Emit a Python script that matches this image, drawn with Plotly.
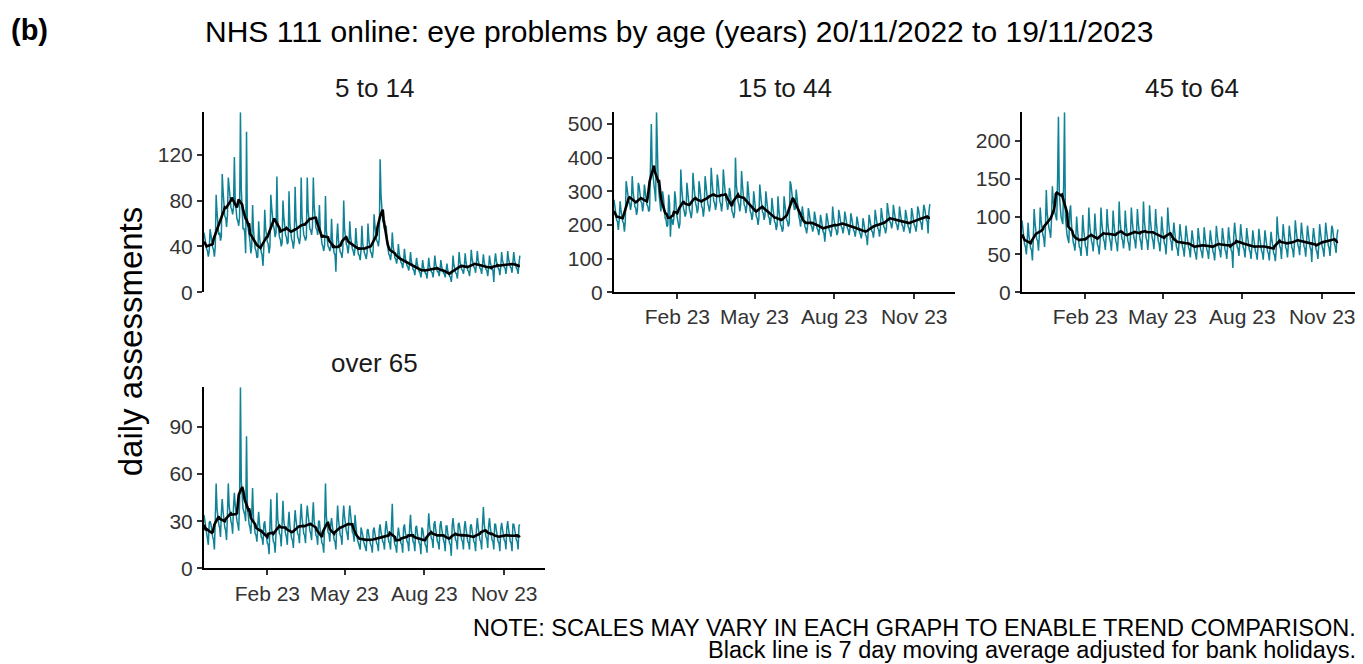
import pandas as pd
import plotly.graph_objects as go

# daily assessments, 20/11/2022 .. 19/11/2023 (one row = one week, Sun..Sat)
DATES = pd.date_range("2022-11-20", "2023-11-19", freq="D")

AGE_5_14 = [
    52, 47, 40, 38, 36, 31, 36,
    55, 50, 42, 39, 37, 31, 40,
    85, 70, 55, 50, 52, 45, 49,
    103, 88, 72, 66, 65, 57, 67,
    100, 92, 80, 74, 72, 68, 74,
    118, 80, 70, 64, 62, 58, 66,
    157, 90, 60, 55, 56, 52, 34,
    140, 60, 52, 50, 44, 34, 40,
    76, 55, 42, 38, 36, 30, 31,
    62, 48, 40, 35, 32, 23, 40,
    72, 56, 48, 44, 42, 34, 40,
    85, 74, 62, 58, 55, 48, 52,
    101, 62, 52, 48, 46, 40, 43,
    80, 66, 55, 50, 48, 42, 44,
    88, 60, 50, 46, 44, 38, 45,
    92, 64, 52, 48, 46, 42, 48,
    100, 66, 56, 50, 48, 45, 48,
    100, 72, 60, 55, 54, 50, 57,
    100, 75, 62, 56, 55, 50, 57,
    76, 56, 45, 42, 40, 36, 41,
    84, 54, 44, 40, 39, 36, 39,
    64, 46, 38, 34, 33, 18, 47,
    60, 45, 38, 35, 34, 30, 38,
    80, 55, 45, 42, 40, 34, 40,
    62, 48, 40, 38, 36, 32, 38,
    56, 44, 36, 33, 32, 28, 37,
    58, 42, 36, 34, 32, 29, 35,
    60, 46, 38, 35, 34, 30, 37,
    68, 58, 48, 45, 44, 40, 47,
    116, 85, 70, 62, 60, 55, 56,
    58, 44, 36, 33, 32, 28, 35,
    52, 40, 32, 30, 29, 25, 30,
    42, 34, 28, 26, 25, 21, 27,
    38, 30, 25, 23, 22, 19, 25,
    35, 27, 22, 20, 19, 15, 23,
    30, 24, 19, 18, 17, 13, 19,
    28, 22, 18, 17, 16, 12, 20,
    30, 23, 19, 18, 17, 13, 20,
    32, 25, 20, 18, 18, 14, 20,
    28, 22, 18, 17, 16, 13, 19,
    25, 19, 15, 14, 13, 9, 17,
    32, 24, 18, 17, 16, 12, 21,
    35, 27, 22, 20, 19, 16, 22,
    34, 26, 21, 19, 18, 14, 22,
    37, 29, 24, 22, 21, 17, 25,
    36, 28, 23, 21, 20, 16, 24,
    33, 26, 21, 20, 19, 14, 21,
    32, 26, 21, 20, 19, 9, 27,
    34, 27, 22, 21, 20, 15, 22,
    35, 28, 23, 22, 21, 16, 23,
    36, 29, 24, 22, 21, 17, 26,
    35, 28, 23, 21, 20, 16, 25,
    32,
]

AGE_15_44 = [
    275, 250, 225, 215, 210, 185, 215,
    270, 245, 220, 210, 205, 180, 210,
    330, 310, 280, 270, 265, 245, 260,
    345, 300, 265, 255, 250, 230, 245,
    325, 315, 285, 270, 265, 240, 260,
    320, 300, 270, 260, 255, 240, 245,
    420, 500, 380, 330, 320, 300, 270,
    535, 380, 320, 290, 270, 240, 275,
    300, 280, 235, 220, 215, 195, 200,
    290, 265, 165, 220, 215, 200, 220,
    300, 280, 235, 220, 215, 190, 205,
    365, 310, 265, 250, 240, 225, 235,
    325, 300, 255, 245, 235, 220, 240,
    355, 320, 280, 265, 255, 235, 250,
    330, 310, 270, 255, 250, 225, 250,
    345, 320, 275, 265, 255, 240, 260,
    370, 330, 290, 270, 265, 245, 260,
    350, 330, 285, 270, 262, 240, 265,
    365, 330, 290, 275, 265, 245, 260,
    310, 295, 255, 240, 235, 220, 237,
    400, 320, 280, 270, 260, 240, 260,
    360, 320, 275, 260, 255, 235, 255,
    330, 300, 255, 240, 235, 215, 231,
    300, 275, 240, 225, 220, 200, 220,
    320, 290, 250, 240, 235, 215, 228,
    300, 275, 240, 225, 220, 200, 220,
    280, 255, 220, 210, 205, 185, 199,
    285, 245, 210, 200, 195, 180, 190,
    285, 260, 225, 215, 210, 195, 206,
    330, 320, 285, 270, 260, 245, 250,
    305, 280, 240, 225, 215, 195, 220,
    255, 235, 205, 195, 190, 175, 194,
    250, 235, 205, 200, 195, 180, 191,
    240, 225, 200, 190, 185, 170, 190,
    230, 215, 190, 180, 175, 150, 190,
    235, 220, 195, 185, 180, 165, 185,
    255, 225, 195, 190, 185, 170, 180,
    245, 230, 205, 195, 190, 175, 195,
    240, 225, 200, 190, 185, 170, 190,
    235, 220, 195, 185, 180, 165, 185,
    225, 210, 185, 178, 172, 160, 179,
    220, 205, 180, 170, 165, 140, 180,
    230, 215, 190, 182, 178, 162, 187,
    245, 225, 200, 190, 185, 165, 190,
    250, 230, 205, 195, 190, 175, 190,
    265, 245, 220, 210, 205, 190, 205,
    260, 240, 215, 205, 200, 185, 200,
    255, 235, 210, 200, 195, 180, 195,
    245, 230, 205, 195, 190, 175, 195,
    250, 235, 210, 200, 195, 180, 200,
    255, 245, 220, 210, 205, 185, 220,
    260, 250, 225, 215, 210, 175, 240,
    262,
]

AGE_45_64 = [
    95, 80, 68, 63, 60, 50, 67,
    92, 75, 63, 58, 56, 42, 69,
    110, 92, 76, 70, 68, 55, 75,
    112, 95, 82, 76, 72, 60, 84,
    135, 105, 92, 85, 80, 72, 96,
    140, 120, 110, 105, 100, 95, 149,
    232, 130, 105, 100, 95, 90, 144,
    238, 100, 80, 75, 70, 65, 107,
    115, 90, 72, 66, 62, 55, 72,
    100, 82, 66, 60, 58, 48, 69,
    102, 84, 68, 62, 58, 48, 68,
    112, 90, 74, 68, 64, 54, 70,
    104, 85, 68, 63, 60, 50, 67,
    112, 92, 76, 70, 66, 56, 74,
    110, 90, 75, 70, 66, 55, 73,
    108, 90, 74, 68, 64, 54, 74,
    120, 94, 78, 72, 68, 58, 70,
    108, 90, 74, 68, 64, 55, 73,
    112, 95, 78, 72, 68, 58, 77,
    110, 92, 76, 70, 66, 56, 76,
    120, 95, 78, 72, 68, 56, 71,
    115, 95, 78, 72, 68, 57, 75,
    110, 90, 74, 68, 64, 54, 72,
    100, 85, 70, 65, 62, 50, 72,
    112, 92, 76, 70, 66, 55, 75,
    92, 80, 65, 60, 57, 48, 67,
    90, 78, 64, 60, 56, 47, 67,
    88, 77, 63, 59, 56, 46, 66,
    82, 72, 58, 54, 51, 43, 60,
    85, 74, 60, 56, 53, 45, 61,
    86, 73, 60, 56, 53, 44, 62,
    82, 72, 58, 54, 51, 42, 61,
    88, 76, 62, 58, 55, 46, 63,
    85, 74, 60, 56, 53, 44, 62,
    86, 74, 60, 56, 53, 32, 73,
    92, 80, 65, 60, 57, 48, 67,
    90, 77, 63, 59, 56, 46, 64,
    85, 74, 60, 56, 53, 44, 62,
    82, 72, 58, 54, 51, 43, 60,
    84, 73, 59, 55, 52, 43, 61,
    82, 72, 58, 54, 51, 42, 61,
    80, 70, 56, 52, 49, 41, 58,
    100, 80, 66, 61, 58, 44, 67,
    90, 77, 63, 59, 56, 46, 64,
    88, 78, 63, 59, 56, 46, 65,
    95, 82, 67, 62, 59, 49, 69,
    92, 80, 65, 61, 57, 47, 67,
    88, 78, 63, 59, 56, 40, 71,
    85, 74, 60, 56, 53, 44, 62,
    90, 79, 64, 60, 56, 47, 66,
    92, 81, 66, 62, 58, 48, 69,
    88, 84, 68, 64, 60, 52, 74,
    83,
]

AGE_65_PLUS = [
    34, 30, 25, 22, 20, 15, 29,
    30, 28, 22, 20, 18, 12, 31,
    54, 38, 30, 28, 26, 20, 35,
    44, 36, 28, 26, 24, 18, 34,
    54, 40, 32, 30, 28, 22, 39,
    48, 40, 33, 30, 28, 24, 42,
    115, 55, 42, 38, 36, 34, 30,
    84, 40, 32, 28, 26, 22, 34,
    51, 32, 25, 22, 21, 17, 28,
    36, 28, 22, 20, 19, 15, 28,
    30, 24, 18, 16, 15, 9, 28,
    44, 25, 19, 17, 16, 10, 23,
    48, 32, 24, 22, 21, 14, 28,
    43, 30, 24, 22, 20, 15, 28,
    36, 27, 21, 19, 18, 13, 27,
    37, 31, 24, 22, 21, 16, 31,
    41, 32, 25, 22, 21, 16, 32,
    40, 34, 26, 24, 22, 18, 32,
    42, 30, 24, 21, 20, 15, 30,
    30, 24, 18, 16, 15, 10, 27,
    54, 33, 26, 23, 22, 17, 28,
    32, 27, 21, 18, 17, 12, 27,
    40, 31, 24, 21, 20, 15, 31,
    40, 33, 26, 24, 22, 18, 33,
    40, 34, 26, 23, 22, 17, 34,
    24, 22, 18, 16, 15, 12, 26,
    24, 21, 17, 15, 14, 11, 24,
    25, 21, 17, 15, 14, 10, 24,
    26, 22, 18, 16, 15, 11, 25,
    28, 23, 19, 17, 16, 12, 25,
    30, 25, 20, 17, 16, 12, 27,
    41, 22, 18, 15, 14, 10, 20,
    26, 22, 18, 16, 15, 10, 26,
    28, 23, 19, 17, 16, 11, 26,
    34, 24, 19, 17, 16, 11, 26,
    27, 22, 18, 16, 15, 9, 26,
    25, 21, 17, 15, 14, 10, 24,
    35, 27, 21, 19, 18, 13, 28,
    30, 25, 20, 17, 16, 12, 27,
    30, 25, 20, 18, 16, 11, 27,
    27, 22, 18, 16, 15, 8, 27,
    32, 26, 21, 18, 17, 12, 28,
    29, 25, 20, 18, 17, 12, 26,
    30, 25, 20, 17, 16, 12, 27,
    28, 24, 19, 17, 16, 11, 25,
    32, 26, 21, 18, 17, 12, 28,
    39, 28, 22, 20, 19, 13, 27,
    32, 26, 21, 18, 17, 12, 28,
    28, 24, 19, 17, 16, 11, 25,
    29, 25, 20, 18, 17, 12, 26,
    30, 25, 20, 17, 16, 11, 28,
    28, 25, 20, 18, 17, 12, 27,
    28,
]

PANEL_TITLES = ["5 to 14", "15 to 44", "45 to 64", "over 65"]
Y_TICKS_5_14 = [0, 40, 80, 120]
Y_TICKS_15_44 = [0, 100, 200, 300, 400, 500]
Y_TICKS_45_64 = [0, 50, 100, 150, 200]
Y_TICKS_65_PLUS = [0, 30, 60, 90]
X_TICK_DATES = ["2023-02-01", "2023-05-01", "2023-08-01", "2023-11-01"]
X_TICK_TEXT = ["Feb 23", "May 23", "Aug 23", "Nov 23"]
X_RANGE = ["2022-11-20", "2023-12-18"]
NOTE_LINES = [
    "NOTE: SCALES MAY VARY IN EACH GRAPH TO ENABLE TREND COMPARISON.",
    "Black line is 7 day moving average adjusted for bank holidays.",
]

# page body has an 8px margin; the photo also comes out squeezed a little vertically
PAD = 8
SY = 0.983
W, H = 1363 - PAD, 668
TEAL = "#108296"
INK = "#333333"
FONT = "Liberation Sans, Arial, sans-serif"


def px(x):
    return (x - PAD) / W


def py(y):
    return 1 - (y / SY - PAD) / H


# panel boxes in screen pixels: (left, right, top, bottom), and whether the x axis is drawn
PANELS = [
    (AGE_5_14, Y_TICKS_5_14, (204, 545, 112, 292), False),
    (AGE_15_44, Y_TICKS_15_44, (614, 955, 112, 292), True),
    (AGE_45_64, Y_TICKS_45_64, (1022, 1363, 112, 292), True),
    (AGE_65_PLUS, Y_TICKS_65_PLUS, (204, 545, 387, 568), True),
]

fig = go.Figure()
annotations = []

for i, (vals, yticks, box, show_x) in enumerate(PANELS, start=1):
    sfx = "" if i == 1 else str(i)
    s = pd.Series(vals, index=DATES)
    # 7 day centred moving average
    ma = s.rolling(7, center=True, min_periods=4).mean()

    fig.add_trace(go.Scatter(
        x=DATES, y=s.values, mode="lines", xaxis=f"x{sfx}", yaxis=f"y{sfx}",
        line=dict(color=TEAL, width=1.5), showlegend=False, hoverinfo="skip",
    ))
    fig.add_trace(go.Scatter(
        x=DATES, y=ma.values, mode="lines", xaxis=f"x{sfx}", yaxis=f"y{sfx}",
        line=dict(color="black", width=2.6), showlegend=False,
    ))

    left, right, top, bottom = box
    xdom = [px(left), min(px(right), 1.0)]
    ydom = [py(bottom), py(top)]

    fig.update_layout(**{
        f"xaxis{sfx}": dict(
            type="date", domain=xdom, anchor=f"y{sfx}", range=X_RANGE,
            showline=show_x, linecolor="black", linewidth=2,
            ticks="outside" if show_x else "", ticklen=5, tickwidth=2, tickcolor=INK,
            tickvals=X_TICK_DATES, ticktext=X_TICK_TEXT, showticklabels=show_x,
            ticklabeloverflow="allow",
            tickfont=dict(family=FONT, size=21, color=INK),
            showgrid=False, zeroline=False,
        ),
        f"yaxis{sfx}": dict(
            domain=ydom, anchor=f"x{sfx}", range=[0, max(vals)],
            showline=True, linecolor="black", linewidth=2,
            ticks="outside", ticklen=5, tickwidth=2, tickcolor=INK,
            tickvals=yticks, tickfont=dict(family=FONT, size=21, color=INK),
            showgrid=False, zeroline=False,
        ),
    })

    centre = 1192 if i == 3 else (left + right) / 2
    annotations.append(dict(
        text=PANEL_TITLES[i - 1], xref="paper", yref="paper",
        x=px(centre), y=py(top - 24),
        xanchor="center", yanchor="middle", showarrow=False,
        font=dict(family=FONT, size=26, color="#1a1a1a"),
    ))

annotations += [
    dict(text="<b>(b)</b>", xref="paper", yref="paper", x=px(9), y=py(30),
         xanchor="left", yanchor="middle", showarrow=False,
         font=dict(family=FONT, size=29, color="black")),
    dict(text="NHS 111 online: eye problems by age (years) 20/11/2022 to 19/11/2023",
         xref="paper", yref="paper", x=px(203), y=py(31),
         xanchor="left", yanchor="middle", showarrow=False,
         font=dict(family=FONT, size=30, color="black")),
    dict(text="daily assessments", xref="paper", yref="paper", x=px(130), y=py(341),
         xanchor="center", yanchor="middle", textangle=-90, showarrow=False,
         font=dict(family=FONT, size=33, color="black")),
]
for line, y in zip(NOTE_LINES, [628, 650]):
    annotations.append(dict(
        text=line, xref="paper", yref="paper", x=px(1358), y=py(y),
        xanchor="right", yanchor="middle", showarrow=False,
        font=dict(family=FONT, size=23.5, color="black"),
    ))

fig.update_layout(
    width=W, height=H, autosize=False,
    margin=dict(l=0, r=0, t=0, b=0),
    paper_bgcolor="white", plot_bgcolor="white",
    font=dict(family=FONT, color="black"),
    annotations=annotations,
    showlegend=False,
)

fig.write_html("out.html")
